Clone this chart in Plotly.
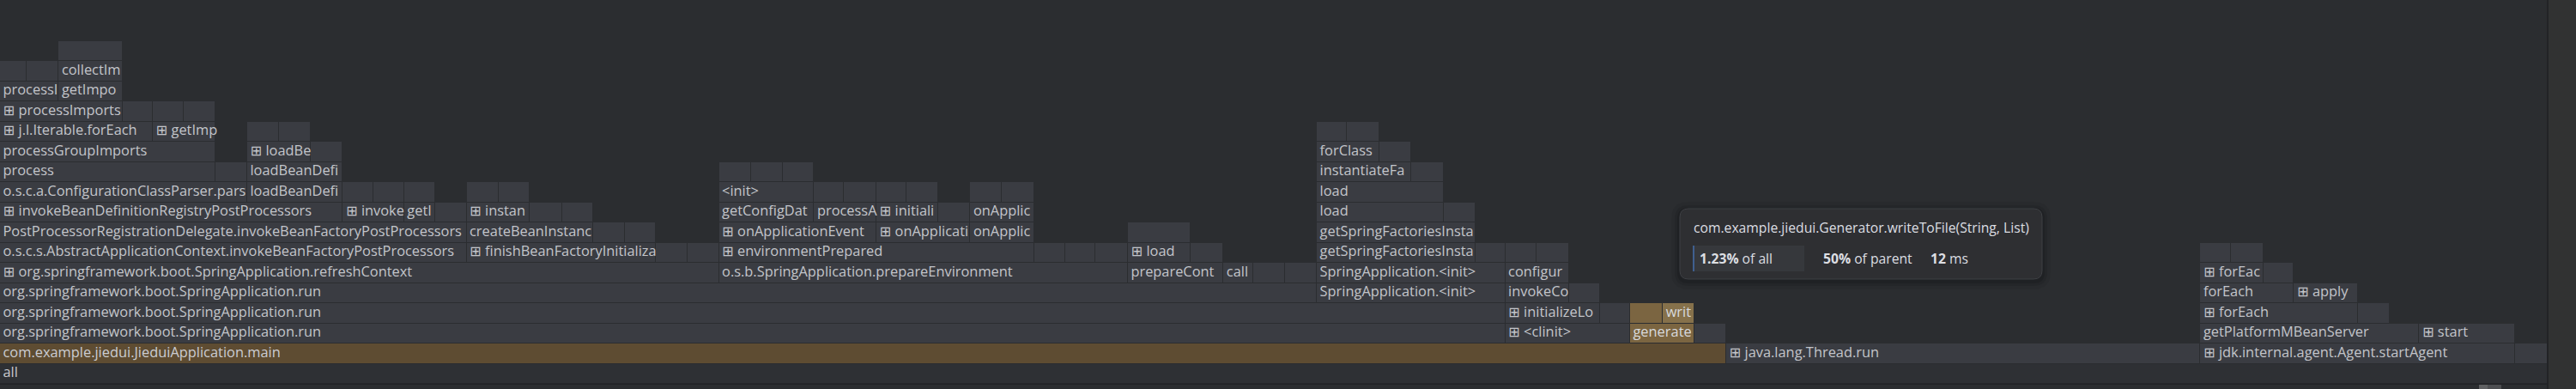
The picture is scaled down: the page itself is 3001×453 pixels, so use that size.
import plotly.graph_objects as go

# ---------------------------------------------------------------- data ----
# Flame graph (bottom-up). Every frame: (start_ms, duration_ms, label, kind)
# kind: root / lib / user (com.example code) / user_hot (selected path) / hover
TOTAL_MS = 972.0

level_00 = [(0.0, 972.0, "all", "root")]
level_01 = [(0.0, 658.6, "com.example.jiedui.JieduiApplication.main", "user"),
            (658.6, 180.9, "⊞ java.lang.Thread.run", "lib"),
            (839.5, 120.2, "⊞ jdk.internal.agent.Agent.startAgent", "lib"),
            (959.7, 12.3, "", "lib")]
level_02 = [(0.0, 574.3, "org.springframework.boot.SpringApplication.run", "lib"),
            (574.3, 47.6, "⊞ <clinit>", "lib"),
            (621.9, 24.6, "generate", "user_hot"),
            (646.5, 12.1, "", "lib"),
            (839.5, 83.5, "getPlatformMBeanServer", "lib"),
            (923.0, 36.7, "⊞ start", "lib")]
level_03 = [(0.0, 574.3, "org.springframework.boot.SpringApplication.run", "lib"),
            (574.3, 36.1, "⊞ initializeLo", "lib"),
            (610.4, 11.5, "", "lib"),
            (621.9, 12.5, "", "user_hot"),
            (634.4, 12.1, "writ", "hover"),
            (839.5, 60.0, "⊞ forEach", "lib"),
            (899.5, 12.2, "", "lib")]
level_04 = [(0.0, 502.4, "org.springframework.boot.SpringApplication.run", "lib"),
            (502.4, 71.9, "SpringApplication.<init>", "lib"),
            (574.3, 24.2, "invokeCo", "lib"),
            (598.5, 11.9, "", "lib"),
            (839.5, 35.7, "forEach", "lib"),
            (875.2, 24.3, "⊞ apply", "lib")]
level_05 = [(0.0, 274.3, "⊞ org.springframework.boot.SpringApplication.refreshContext", "lib"),
            (274.3, 156.0, "o.s.b.SpringApplication.prepareEnvironment", "lib"),
            (430.3, 36.5, "prepareCont", "lib"),
            (466.8, 11.3, "call", "lib"),
            (478.1, 12.2, "", "lib"),
            (490.3, 12.1, "", "lib"),
            (502.4, 71.9, "SpringApplication.<init>", "lib"),
            (574.3, 24.2, "configur", "lib"),
            (839.5, 24.1, "⊞ forEac", "lib"),
            (863.6, 11.6, "", "lib")]
level_06 = [(0.0, 178.0, "o.s.c.s.AbstractApplicationContext.invokeBeanFactoryPostProcessors", "lib"),
            (178.0, 72.2, "⊞ finishBeanFactoryInitializa", "lib"),
            (250.2, 12.1, "", "lib"),
            (262.3, 12.0, "", "lib"),
            (274.3, 120.3, "⊞ environmentPrepared", "lib"),
            (394.6, 11.8, "", "lib"),
            (406.4, 11.5, "", "lib"),
            (417.9, 12.4, "", "lib"),
            (430.3, 23.8, "⊞ load", "lib"),
            (454.1, 12.7, "", "lib"),
            (502.4, 60.6, "getSpringFactoriesInsta", "lib"),
            (563.0, 11.3, "", "lib"),
            (574.3, 11.9, "", "lib"),
            (586.2, 12.3, "", "lib"),
            (839.5, 11.8, "", "lib"),
            (851.3, 12.3, "", "lib")]
level_07 = [(0.0, 178.0, "PostProcessorRegistrationDelegate.invokeBeanFactoryPostProcessors", "lib"),
            (178.0, 48.3, "createBeanInstanc", "lib"),
            (226.3, 12.1, "", "lib"),
            (238.4, 11.8, "", "lib"),
            (274.3, 60.1, "⊞ onApplicationEvent", "lib"),
            (334.4, 35.8, "⊞ onApplicati", "lib"),
            (370.2, 24.4, "onApplic", "lib"),
            (430.3, 23.8, "", "lib"),
            (502.4, 60.6, "getSpringFactoriesInsta", "lib")]
level_08 = [(0.0, 130.8, "⊞ invokeBeanDefinitionRegistryPostProcessors", "lib"),
            (130.8, 23.4, "⊞ invoke", "lib"),
            (154.2, 11.8, "getI", "lib"),
            (166.0, 12.0, "", "lib"),
            (178.0, 24.1, "⊞ instan", "lib"),
            (202.1, 12.4, "", "lib"),
            (214.5, 11.8, "", "lib"),
            (274.3, 36.3, "getConfigDat", "lib"),
            (310.6, 23.8, "processA", "lib"),
            (334.4, 23.7, "⊞ initiali", "lib"),
            (358.1, 12.1, "", "lib"),
            (370.2, 24.4, "onApplic", "lib"),
            (502.4, 48.4, "load", "lib"),
            (550.8, 12.2, "", "lib")]
level_09 = [(0.0, 94.3, "o.s.c.a.ConfigurationClassParser.pars", "lib"),
            (94.3, 36.5, "loadBeanDefi", "lib"),
            (130.8, 11.8, "", "lib"),
            (142.6, 11.6, "", "lib"),
            (154.2, 11.8, "", "lib"),
            (178.0, 12.3, "", "lib"),
            (190.3, 11.8, "", "lib"),
            (274.3, 36.3, "<init>", "lib"),
            (310.6, 11.3, "", "lib"),
            (321.9, 12.5, "", "lib"),
            (334.4, 11.4, "", "lib"),
            (345.8, 12.3, "", "lib"),
            (370.2, 12.1, "", "lib"),
            (382.3, 12.3, "", "lib"),
            (502.4, 48.4, "load", "lib")]
level_10 = [(0.0, 82.2, "process", "lib"),
            (82.2, 12.1, "", "lib"),
            (94.3, 36.5, "loadBeanDefi", "lib"),
            (274.3, 12.1, "", "lib"),
            (286.4, 12.4, "", "lib"),
            (298.8, 11.8, "", "lib"),
            (502.4, 36.0, "instantiateFa", "lib"),
            (538.4, 12.4, "", "lib")]
level_11 = [(0.0, 82.2, "processGroupImports", "lib"),
            (94.3, 24.3, "⊞ loadBe", "lib"),
            (118.6, 12.2, "", "lib"),
            (502.4, 23.9, "forClass", "lib"),
            (526.3, 12.1, "", "lib")]
level_12 = [(0.0, 58.3, "⊞ j.l.Iterable.forEach", "lib"),
            (58.3, 23.9, "⊞ getImp", "lib"),
            (94.3, 12.0, "", "lib"),
            (106.3, 12.3, "", "lib"),
            (502.4, 11.4, "", "lib"),
            (513.8, 12.5, "", "lib")]
level_13 = [(0.0, 46.8, "⊞ processImports", "lib"),
            (46.8, 11.5, "", "lib"),
            (58.3, 11.8, "", "lib"),
            (70.1, 12.1, "", "lib")]
level_14 = [(0.0, 22.4, "processI", "lib"),
            (22.4, 24.4, "getImpo", "lib")]
level_15 = [(0.0, 10.0, "", "lib"),
            (10.0, 12.4, "", "lib"),
            (22.4, 24.4, "collectIm", "lib")]
level_16 = [(22.4, 24.4, "", "lib")]

LEVELS = [level_00, level_01, level_02, level_03, level_04, level_05, level_06,
          level_07, level_08, level_09, level_10, level_11, level_12, level_13,
          level_14, level_15, level_16]

# hovered frame tooltip
tip_title = "com.example.jiedui.Generator.writeToFile(String, List)"
tip_pct_all = "1.23%"
tip_pct_parent = "50%"
tip_ms = "12"

# --------------------------------------------------------------- style ----
W, H = 3001, 453
M_L, M_R, M_T, M_B = 0, 33, 0, 6
PW, PH = W - M_L - M_R, H - M_T - M_B
ROW_PX = 23.5
BG = "#2b2d30"
FILL = {"root": "#2e3034", "lib": "#3a3c42", "user": "#5e4c32",
        "user_hot": "#7b6541", "hover": "#86714b"}
TXT = {"root": "#c6c8cd", "lib": "#c3c5ca", "user": "#cbcdd2",
       "user_hot": "#d8dadd", "hover": "#d8dadd"}
FONT = "Open Sans, Noto Sans, DejaVu Sans, sans-serif"
FS = 16.4
FS_TIP = 15.7

px_per_ms = PW / TOTAL_MS
pad_ms = 3.5 / px_per_ms

ys, xs, bases, cols = [], [], [], []
tx, ty, tt, tc = [], [], [], []
for lvl, frames in enumerate(LEVELS):
    for start, dur, label, kind in frames:
        ys.append(lvl)
        xs.append(dur)
        bases.append(start)
        cols.append(FILL[kind])
        if label:
            tx.append(start + pad_ms)
            ty.append(lvl)
            tt.append(label)
            tc.append(TXT[kind])

fig = go.Figure()
fig.add_trace(go.Bar(
    orientation="h", y=ys, x=xs, base=bases, width=1.0,
    marker=dict(color=cols, line=dict(color=BG, width=1)),
    hoverinfo="skip", showlegend=False))
fig.add_trace(go.Scatter(
    x=tx, y=ty, mode="text", text=tt, textposition="middle right",
    textfont=dict(family=FONT, size=FS, color=tc),
    hoverinfo="skip", showlegend=False, cliponaxis=True))

y_top = PH / ROW_PX - 0.5

# ----------------------------------------------------- overlay helpers ----
def px_x(px):
    return (px - M_L) / PW


def px_y(py):
    return (PH - (py - M_T)) / PH


def rrect(x0, y0, x1, y1, r):
    def P(x, y):
        return f"{px_x(x):.6f},{px_y(y):.6f}"
    return (f"M {P(x0 + r, y0)} L {P(x1 - r, y0)} Q {P(x1, y0)} {P(x1, y0 + r)} "
            f"L {P(x1, y1 - r)} Q {P(x1, y1)} {P(x1 - r, y1)} "
            f"L {P(x0 + r, y1)} Q {P(x0, y1)} {P(x0, y1 - r)} "
            f"L {P(x0, y0 + r)} Q {P(x0, y0)} {P(x0 + r, y0)} Z")


shapes = []
# right-hand scrollbar strip and bottom scrollbar
shapes.append(dict(type="rect", xref="paper", yref="paper",
                   x0=px_x(PW), x1=px_x(W), y0=px_y(H), y1=px_y(0),
                   fillcolor="#313232", line=dict(width=0), layer="above"))
shapes.append(dict(type="rect", xref="paper", yref="paper",
                   x0=px_x(PW - 1), x1=px_x(PW + 1), y0=px_y(H), y1=px_y(0),
                   fillcolor="#222326", line=dict(width=0), layer="above"))
shapes.append(dict(type="rect", xref="paper", yref="paper",
                   x0=px_x(0), x1=px_x(PW), y0=px_y(448), y1=px_y(446.5),
                   fillcolor="#222326", line=dict(width=0), layer="above"))
shapes.append(dict(type="rect", xref="paper", yref="paper",
                   x0=px_x(2888), x1=px_x(2898), y0=px_y(453), y1=px_y(448),
                   fillcolor="#5f6062", line=dict(width=0), layer="above"))
shapes.append(dict(type="rect", xref="paper", yref="paper",
                   x0=px_x(2898), x1=px_x(2914), y0=px_y(453), y1=px_y(448),
                   fillcolor="#4d4e51", line=dict(width=0), layer="above"))

# tooltip
TX0, TY0, TX1, TY1 = 1957, 243, 2379, 325
for g, a in ((10, 0.05), (6, 0.08), (3, 0.12)):
    shapes.append(dict(type="path", xref="paper", yref="paper",
                       path=rrect(TX0 - g, TY0 - g + 2, TX1 + g, TY1 + g + 2, 10 + g),
                       fillcolor=f"rgba(0,0,0,{a})", line=dict(width=0), layer="above"))
shapes.append(dict(type="path", xref="paper", yref="paper",
                   path=rrect(TX0, TY0, TX1, TY1, 10),
                   fillcolor="#2e2f32", line=dict(color="#3e4044", width=1), layer="above"))
shapes.append(dict(type="rect", xref="paper", yref="paper",
                   x0=px_x(1972), x1=px_x(2102), y0=px_y(316), y1=px_y(286),
                   fillcolor="#36383c", line=dict(width=0), layer="above"))
shapes.append(dict(type="rect", xref="paper", yref="paper",
                   x0=px_x(1972), x1=px_x(1974), y0=px_y(316), y1=px_y(286),
                   fillcolor="#3f5f8f", line=dict(width=0), layer="above"))

ann_font = dict(family=FONT, size=FS_TIP, color="#dcdee2")
annotations = [
    dict(x=px_x(1971), y=px_y(265), text=tip_title),
    dict(x=px_x(1978), y=px_y(301), text=f"<b>{tip_pct_all}</b> of all"),
    dict(x=px_x(2122), y=px_y(301), text=f"<b>{tip_pct_parent}</b> of parent"),
    dict(x=px_x(2247), y=px_y(301), text=f"<b>{tip_ms}</b> ms"),
]
for a in annotations:
    a.update(xref="paper", yref="paper", xanchor="left", yanchor="middle",
             showarrow=False, font=ann_font)

fig.update_layout(
    width=W, height=H,
    margin=dict(l=M_L, r=M_R, t=M_T, b=M_B, pad=0),
    paper_bgcolor=BG, plot_bgcolor=BG,
    barmode="overlay", bargap=0,
    xaxis=dict(range=[0, TOTAL_MS], visible=False, fixedrange=True),
    yaxis=dict(range=[-0.5, y_top], visible=False, fixedrange=True),
    shapes=shapes, annotations=annotations,
    font=dict(family=FONT, size=FS, color="#c3c5ca"),
)

fig.write_html(
    "out.html",
    config={"displayModeBar": False},
    post_script="document.body.style.margin='0';document.body.style.background='#2b2d30';",
)
